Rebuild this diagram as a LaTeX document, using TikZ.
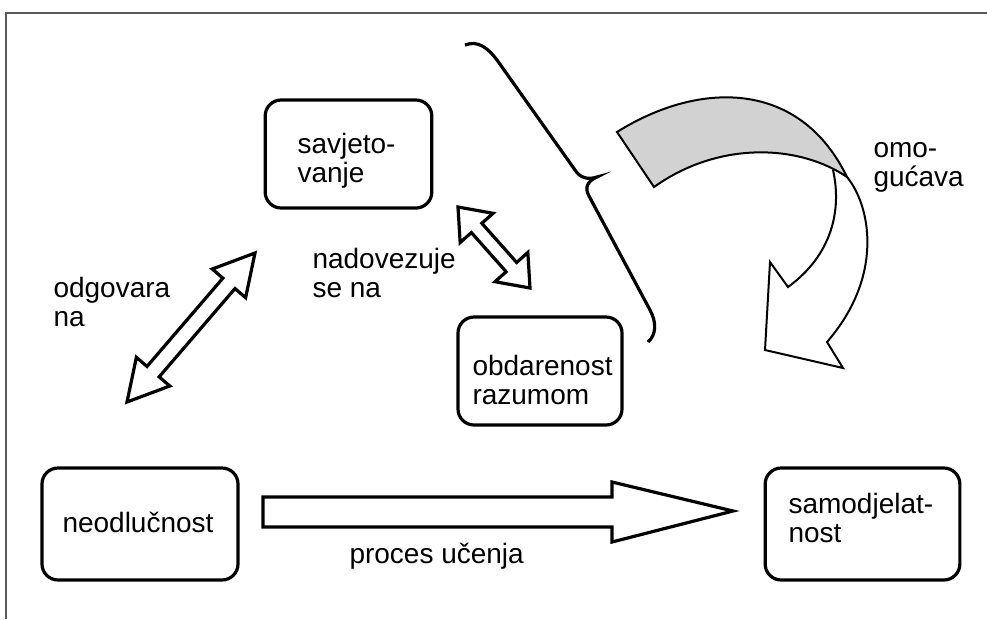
\documentclass[tikz,border=0pt]{standalone}
\usepackage{fontspec}
\setmainfont{Liberation Sans}
\definecolor{ribbongrey}{RGB}{210,210,210}
\definecolor{framegrey}{RGB}{90,90,90}
\tikzset{every picture/.style={line width=0.75pt}}
\tikzset{
  box/.style={draw, line width=2.4pt, rounded corners=12pt, inner sep=0pt},
  lbl/.style={anchor=north west, inner sep=0.75pt, align=left, font=\fontsize{21}{21.5}\selectfont},
  blockarrow/.style={draw, line width=2.4pt, fill=white},
}

\begin{document}
\begin{tikzpicture}[x=0.75pt,y=0.75pt,yscale=-1,xscale=1]
\useasboundingbox (0,0) rectangle (987,619);

%Frame
\draw [framegrey, line width=1pt] (6,619) -- (6,13) -- (987,13) ;

%Shape: Rounded Rectangles
\node [box, minimum width=125pt, minimum height=81pt] (savj) at (348.5,154) {};
\node [box, minimum width=123pt, minimum height=81pt] (obda) at (540,371) {};
\node [box, minimum width=147pt, minimum height=84pt] (neod) at (140,524) {};
\node [box, minimum width=146pt, minimum height=84pt] (samo) at (862.5,524) {};

%Shape: Double Arrow (odgovara)
\draw [blockarrow] (127,402) -- (169.76,385.99) -- (159.14,376.86) -- (235,288.56) -- (245.62,297.69) -- (255,253) -- (212.24,269.01) -- (222.86,278.14) -- (147,366.44) -- (136.38,357.31) -- cycle ;
%Shape: Double Arrow (nadovezuje)
\draw [blockarrow] (458,207) -- (460.16,242.53) -- (471.37,232.57) -- (506.17,271.73) -- (494.96,281.69) -- (530,288) -- (527.84,252.47) -- (516.63,262.43) -- (481.83,223.27) -- (493.04,213.31) -- cycle ;
%Shape: Right Arrow (proces)
\draw [blockarrow] (263,497) -- (612,497) -- (612,482) -- (733,511) -- (612,542) -- (612,527) -- (263,527) -- cycle ;

%Shape: Brace
\draw [line width=2.4pt] (465,45) .. controls (478,40) and (488,48) .. (497,60) -- (575,170) .. controls (580,178) and (588,180) .. (597,177) .. controls (588,181) and (584,187) .. (589,196) -- (650,310) .. controls (657,323) and (656,335) .. (648,342) ;

%Shape: Curved Arrow (omogucava)
\draw [line width=1.5pt, fill=ribbongrey] (617,132) .. controls (700,80) and (800,80) .. (847,177) .. controls (800,145) and (720,140) .. (654,187) -- cycle ;
\draw [line width=1.5pt, line join=miter] (833,170) .. controls (842,210) and (832,255) .. (788,287) -- (770,262) -- (765,350) -- (843,368) -- (827,342) .. controls (885,275) and (870,205) .. (847,177) ;

% Text Node
\node [lbl] (tsavj) at (296,132) {savjeto-\\vanje};
% Text Node
\node [lbl] (tobda) at (471,354) {obdarenost\\razumom};
% Text Node
\node [lbl] (tneod) at (61,511) {neodlučnost};
% Text Node
\node [lbl] (tsamo) at (787,492) {samodjelat-\\nost};
% Text Node
\node [lbl] (todgo) at (52,276) {odgovara\\na};
% Text Node
\node [lbl] (tnado) at (311,247) {nadovezuje\\se na};
% Text Node
\node [lbl] (tproc) at (348,542) {proces učenja};
% Text Node
\node [lbl] (tomog) at (872,141) {omo-\\gućava};

\end{tikzpicture}
\end{document}
